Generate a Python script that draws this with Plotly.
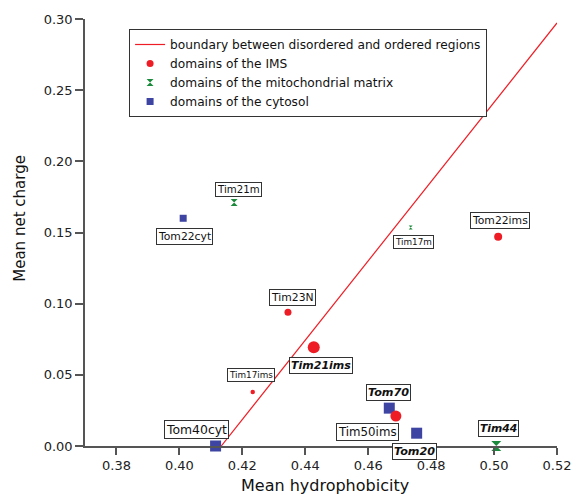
import plotly.graph_objects as go

# ---------------- data ----------------
boundary_x = [0.4133, 0.52]
boundary_y = [0.0, 0.2972]

ims_names = ["Tom22ims", "Tim23N", "Tim21ims", "Tim17ims", "Tim50ims"]
ims_x = [0.5013, 0.4345, 0.4427, 0.4233, 0.4688]
ims_y = [0.147, 0.094, 0.0694, 0.038, 0.021]

matrix_names = ["Tim21m", "Tim17m", "Tim44"]
matrix_x = [0.4174, 0.4735, 0.5007]
matrix_y = [0.171, 0.1535, 0.0]

cyt_names = ["Tom22cyt", "Tom40cyt", "Tom70", "Tom20"]
cyt_x = [0.4012, 0.4115, 0.4667, 0.4754]
cyt_y = [0.160, 0.0, 0.0266, 0.009]

x_ticks = [0.38, 0.40, 0.42, 0.44, 0.46, 0.48, 0.50, 0.52]
y_ticks = [0.00, 0.05, 0.10, 0.15, 0.20, 0.25, 0.30]

# ---------------- styles ----------------
RED = "#ee1d25"
GREEN = "#1b8a3c"
BLUE = "#3d44a2"
FONT = "DejaVu Sans"
AXIS_COLOR = "#555555"

ims_sizes = [8, 7, 12, 4.5, 11]
matrix_sizes = [7, 4, 10]
cyt_sizes = [7, 11, 11, 11]

# label style: font size, emphasised (bold italic), xshift, yshift (px)
label_style = {
    "Tom22ims": (10.8, False, 2, 16),
    "Tim23N": (10.8, False, 5, 15),
    "Tim21ims": (11, True, 7, -18),
    "Tim17ims": (8.8, False, -2, 17),
    "Tim50ims": (11.8, False, -28, -16),
    "Tim21m": (10.2, False, 4, 13),
    "Tim17m": (8.8, False, 3, -14),
    "Tim44": (10.8, True, 2, 18),
    "Tom22cyt": (10.8, False, 1, -18),
    "Tom40cyt": (12.4, False, -19, 17),
    "Tom70": (11.2, True, -1, 16),
    "Tom20": (11.2, True, -2, -18),
}

fig = go.Figure()

fig.add_trace(go.Scatter(
    x=boundary_x, y=boundary_y, mode="lines",
    line=dict(color=RED, width=1.2),
    name="boundary between disordered and ordered regions",
    legendrank=1, cliponaxis=False,
))

fig.add_trace(go.Scatter(
    x=cyt_x, y=cyt_y, mode="markers", showlegend=False,
    marker=dict(symbol="square", color=BLUE, size=cyt_sizes, opacity=1, line=dict(width=0)),
    cliponaxis=False,
))
fig.add_trace(go.Scatter(
    x=ims_x, y=ims_y, mode="markers", showlegend=False,
    marker=dict(symbol="circle", color=RED, size=ims_sizes, opacity=1, line=dict(width=0)),
    cliponaxis=False,
))
fig.add_trace(go.Scatter(
    x=matrix_x, y=matrix_y, mode="markers", showlegend=False,
    marker=dict(symbol="hourglass", color=GREEN, size=matrix_sizes, opacity=1, line=dict(width=0)),
    cliponaxis=False,
))

# legend entries
for name, sym, col, rank in [
    ("domains of the IMS", "circle", RED, 2),
    ("domains of the mitochondrial matrix", "hourglass", GREEN, 3),
    ("domains of the cytosol", "square", BLUE, 4),
]:
    fig.add_trace(go.Scatter(
        x=[None], y=[None], mode="markers", name=name, legendrank=rank,
        marker=dict(symbol=sym, color=col, size=7, opacity=1, line=dict(width=0)),
    ))

# point labels
for names, xs, ys in [(ims_names, ims_x, ims_y),
                      (matrix_names, matrix_x, matrix_y),
                      (cyt_names, cyt_x, cyt_y)]:
    for n, xv, yv in zip(names, xs, ys):
        fs, emph, xs_, ys_ = label_style[n]
        txt = f"<b><i>{n}</i></b>" if emph else n
        fig.add_annotation(
            x=xv, y=yv, text=txt, showarrow=False,
            xshift=xs_, yshift=ys_, xanchor="center", yanchor="middle",
            font=dict(family=FONT, size=fs, color="#111111"),
            bgcolor="white", bordercolor="#333333", borderwidth=1, borderpad=1,
        )

# axis titles
fig.add_annotation(
    xref="paper", yref="paper", x=-0.137, y=0.533, text="Mean net charge",
    textangle=-90, showarrow=False, xanchor="center", yanchor="middle",
    font=dict(family=FONT, size=15, color="#111111"),
)
fig.add_annotation(
    xref="paper", yref="paper", x=0.508, y=-0.1205, text="Mean hydrophobicity",
    showarrow=False, xanchor="center", yanchor="bottom",
    font=dict(family=FONT, size=16, color="#111111"),
)

fig.update_layout(
    width=583, height=498,
    margin=dict(l=85, r=16, t=18, b=52),
    paper_bgcolor="white", plot_bgcolor="white",
    font=dict(family=FONT, size=12.5, color="#111111"),
    legend=dict(
        x=0.0934, y=0.9766, xanchor="left", yanchor="top",
        bgcolor="white", bordercolor="#333333", borderwidth=1,
        font=dict(family=FONT, size=12.2, color="#111111"),
        itemwidth=30,
    ),
    xaxis=dict(
        range=[0.37, 0.52], tickvals=x_ticks, tickformat=".2f",
        showgrid=False, zeroline=False, showline=True, linecolor=AXIS_COLOR,
        linewidth=1.5, ticks="outside", ticklen=7, tickcolor=AXIS_COLOR,
        tickwidth=1.5, tickfont=dict(family=FONT, size=13, color="#222222"),
    ),
    yaxis=dict(
        range=[0.0, 0.30], tickvals=y_ticks, tickformat=".2f",
        showgrid=False, zeroline=False, showline=True, linecolor=AXIS_COLOR,
        linewidth=1.5, ticks="outside", ticklen=8, tickcolor=AXIS_COLOR,
        tickwidth=1.5, tickfont=dict(family=FONT, size=13, color="#222222"),
    ),
)

fig.write_html("out.html")
